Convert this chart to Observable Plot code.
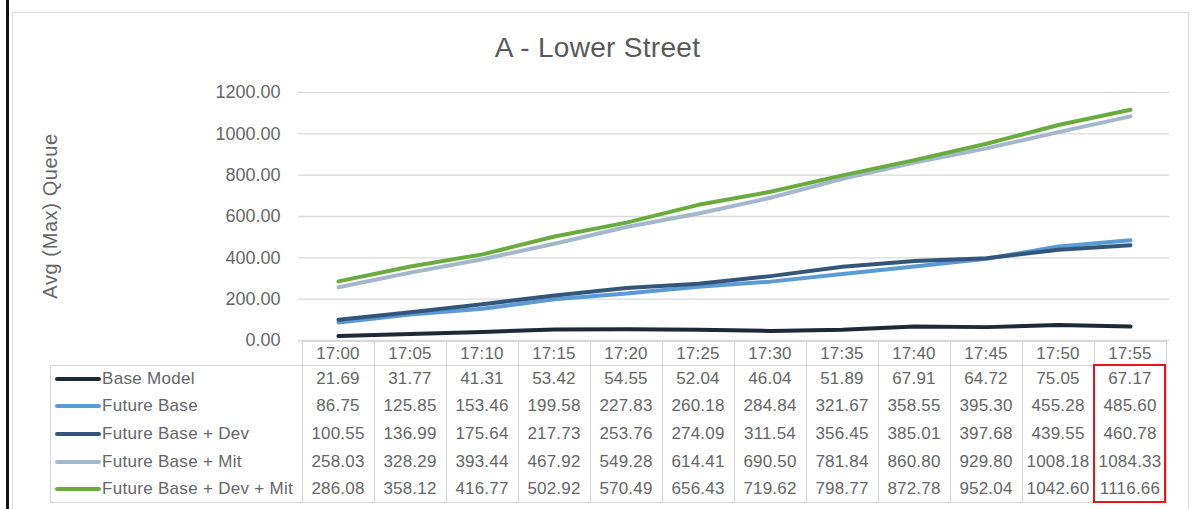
<!DOCTYPE html>
<html><head><meta charset="utf-8">
<script src="https://cdn.jsdelivr.net/npm/d3@7"></script>
<script src="https://cdn.jsdelivr.net/npm/@observablehq/plot@0.6"></script>
<style>
body{margin:0;background:#fff;font-family:"Liberation Sans",Arial,sans-serif;}
#wrap{position:relative;width:1195px;height:509px;overflow:hidden;background:#fff;}
.abs{position:absolute;}
#title{position:absolute;left:0;width:1195px;top:32px;text-align:center;font-size:28px;color:#595959;letter-spacing:0.3px;}
#ylab{position:absolute;left:50px;top:216px;transform:translate(-50%,-50%) rotate(-90deg);font-size:20px;color:#666;white-space:nowrap;letter-spacing:0.6px;}
.cell{position:absolute;text-align:center;font-size:17px;color:#666;white-space:nowrap;letter-spacing:0.2px;}
.lab{position:absolute;font-size:17px;color:#666;white-space:nowrap;letter-spacing:0.3px;}
</style></head><body><div id="wrap"></div>
<script>
const times = ["17:00","17:05","17:10","17:15","17:20","17:25","17:30","17:35","17:40","17:45","17:50","17:55"];
const seriesNames = ["Base Model","Future Base","Future Base + Dev","Future Base + Mit","Future Base + Dev + Mit"];
const baseModel = [21.69,31.77,41.31,53.42,54.55,52.04,46.04,51.89,67.91,64.72,75.05,67.17];
const futureBase = [86.75,125.85,153.46,199.58,227.83,260.18,284.84,321.67,358.55,395.30,455.28,485.60];
const futureBaseDev = [100.55,136.99,175.64,217.73,253.76,274.09,311.54,356.45,385.01,397.68,439.55,460.78];
const futureBaseMit = [258.03,328.29,393.44,467.92,549.28,614.41,690.50,781.84,860.80,929.80,1008.18,1084.33];
const futureBaseDevMit = [286.08,358.12,416.77,502.92,570.49,656.43,719.62,798.77,872.78,952.04,1042.60,1116.66];
const yTicks = [0,200,400,600,800,1000,1200];
const seriesColors = ["#1f2836","#5b9bd5","#34557a","#a3b7cc","#6aab3e"];

const seriesValues = [baseModel, futureBase, futureBaseDev, futureBaseMit, futureBaseDevMit];
const rows = [];
seriesNames.forEach((s, si) => times.forEach((t, ti) => rows.push({series: s, time: t, value: seriesValues[si][ti]})));

const wrap = document.getElementById("wrap");

function add(html, cls, style) {
  const d = document.createElement("div");
  if (cls) d.className = cls;
  Object.assign(d.style, style || {});
  d.textContent = html;
  wrap.appendChild(d);
  return d;
}

// outer frames
add("", "abs", {left:"6px", top:"0px", width:"2.5px", height:"509px", background:"#111"});
add("", "abs", {left:"12px", top:"12px", width:"1175px", height:"520px", border:"1.5px solid #dcdcdc"});

const chart = Plot.plot({
  width: 1195, height: 345,
  marginTop: 92, marginBottom: 5, marginLeft: 298, marginRight: 26,
  x: {type: "point", domain: times, padding: 0.5, axis: null},
  y: {domain: [0, 1200]},
  color: {domain: seriesNames, range: seriesColors},
  style: {fontFamily: "'Liberation Sans', Arial, sans-serif", color: "#666", background: "transparent", overflow: "visible"},
  marks: [
    Plot.gridY(yTicks, {stroke: "#d9d9d9", strokeOpacity: 1, strokeWidth: 1.3}),
    Plot.axisY(yTicks, {tickSize: 0, tickPadding: 18, tickFormat: d => d.toFixed(2), fontSize: 18, label: null}),
    Plot.line(rows, {x: "time", y: "value", z: "series", stroke: "series", strokeWidth: 4, strokeLinejoin: "round", strokeLinecap: "round"})
  ]
});
chart.style.position = "absolute";
chart.style.left = "0px";
chart.style.top = "0px";
wrap.appendChild(chart);

add("A - Lower Street", null, {}).id = "title";
add("Avg (Max) Queue", null, {}).id = "ylab";

// data table, laid out on the chart's own x scale
const xs = chart.scale("x");
const step = xs.apply(times[1]) - xs.apply(times[0]);
const edges = times.map(t => xs.apply(t) - step / 2);
const right = edges[edges.length - 1] + step;
const headTop = 341, bodyTop = 365, bodyBottom = 503;
const rowH = (bodyBottom - bodyTop) / seriesNames.length;
const tableLeft = 50;
const gridC = "#d6d6d6";

// header row
add("", "abs", {left: edges[0] + "px", top: headTop + "px", width: (right - edges[0]) + "px", height: (bodyTop - headTop) + "px", borderTop: "1px solid " + gridC});
// body box
add("", "abs", {left: tableLeft + "px", top: bodyTop + "px", width: (right - tableLeft) + "px", height: (bodyBottom - bodyTop) + "px", border: "1px solid " + gridC, boxSizing: "border-box"});
// vertical separators
edges.concat([right]).forEach(e => add("", "abs", {left: e + "px", top: headTop + "px", width: "1px", height: (bodyBottom - headTop) + "px", background: gridC}));

times.forEach((t, i) => add(t, "cell", {left: edges[i] + "px", width: step + "px", top: (headTop + 3) + "px", lineHeight: "20px"}));

seriesNames.forEach((s, si) => {
  const cy = bodyTop + rowH * (si + 0.5);
  add("", "abs", {left: "55px", top: (cy - 2) + "px", width: "46px", height: "4px", background: seriesColors[si], borderRadius: "2px"});
  add(s, "lab", {left: "102px", top: (cy - 10) + "px", lineHeight: "20px"});
  times.forEach((t, ti) => add(seriesValues[si][ti].toFixed(2), "cell", {left: edges[ti] + "px", width: step + "px", top: (cy - 10) + "px", lineHeight: "20px"}));
});

// red highlight box around the last column
const lastEdge = edges[edges.length - 1];
add("", "abs", {left: (lastEdge - 1) + "px", top: (bodyTop - 1) + "px", width: (step + 1) + "px", height: (bodyBottom - bodyTop + 1) + "px", border: "2px solid #e8161c", boxSizing: "border-box"});
</script>
</body></html>
